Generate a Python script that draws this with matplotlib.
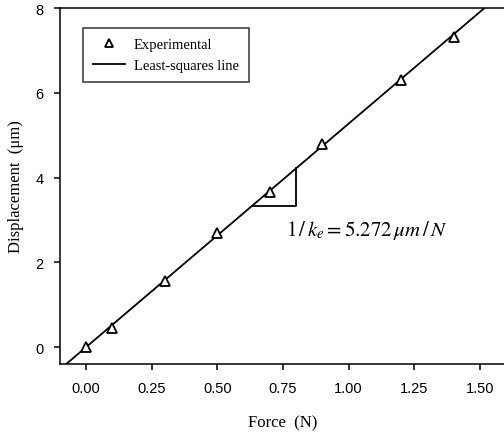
import numpy as np
import matplotlib.pyplot as plt

# ====== DATA ======
force = [0.0, 0.1, 0.3, 0.5, 0.7, 0.9, 1.2, 1.4]          # N
displacement = [0.0, 0.45, 1.55, 2.68, 3.65, 4.8, 6.3, 7.32]  # um
SLOPE = 5.272   # um/N  (1/k_e)
INTERCEPT = 0.0
x_ticks = [0.0, 0.25, 0.5, 0.75, 1.0, 1.25, 1.5]
y_ticks = [0, 2, 4, 6, 8]
# ==================

fig = plt.figure(figsize=(5.04, 4.35), dpi=100)
ax = fig.add_axes([0.119, 0.161, 0.885, 0.818])

xl = np.array([-0.1, 1.6])
ax.plot(xl, SLOPE * xl + INTERCEPT, color='black', lw=1.3, label='Least-squares line')
ax.plot(force, displacement, linestyle='none', marker='^', ms=6.5, mfc='white',
        mec='black', mew=1.3, label='Experimental')

# slope triangle
x0, x1 = 0.63, 0.80
y0 = SLOPE * x0 + INTERCEPT
y1 = SLOPE * x1 + INTERCEPT
ax.plot([x0, x1, x1], [y0, y0, y1], color='black', lw=1.3)

ax.text(1.07, 2.78, r'$1\,/\,k_e = 5.272\,\mu m\,/\,N$', ha='center', va='center',
        fontsize=15, math_fontfamily='stix')

ax.set_xlim(-0.1, 1.6)
ax.set_ylim(-0.4, 8)
ax.set_xticks(x_ticks)
ax.set_xticklabels([f'{v:.2f}' for v in x_ticks])
ax.set_yticks(y_ticks)
for lab in ax.get_xticklabels() + ax.get_yticklabels():
    lab.set_fontfamily('Liberation Sans')
    lab.set_fontsize(10.5)
ax.tick_params(direction='out', length=4, width=1.1, pad=8)

ax.set_xlabel('Force  (N)', family='Liberation Serif', fontsize=12, labelpad=14)
ax.set_ylabel('Displacement  (\u03bcm)', family='Liberation Serif', fontsize=12, labelpad=8)

h, l = ax.get_legend_handles_labels()
leg = ax.legend([h[1], h[0]], [l[1], l[0]], loc='upper left', bbox_to_anchor=(0.035, 0.965),
                prop={'family': 'Liberation Serif', 'size': 10.5}, frameon=True,
                fancybox=False, edgecolor='black', handlelength=2.2, borderpad=0.7,
                handletextpad=0.6, markerscale=0.8)
leg.get_frame().set_linewidth(1.1)

for s in ax.spines.values():
    s.set_linewidth(1.1)

fig.savefig('out.png', dpi=100)
